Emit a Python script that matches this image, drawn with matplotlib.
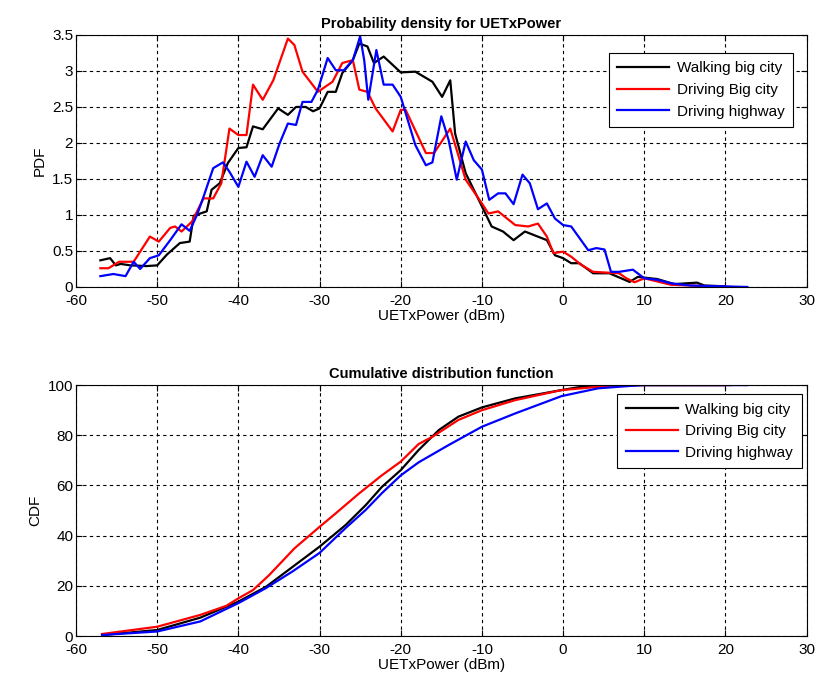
import numpy as np
import matplotlib
matplotlib.use('Agg')
import matplotlib.pyplot as plt

plt.rcParams['font.family'] = ['Liberation Sans', 'DejaVu Sans']
plt.rcParams['axes.unicode_minus'] = False

series_names = ['Walking big city', 'Driving Big city', 'Driving highway']
series_colors = ['black', 'red', 'blue']

# PDF curves (x in dBm, y = density)
pdf_walk_x = [-57.0, -55.8, -55.1, -54.5, -53.3, -51.3, -50.0, -48.8, -47.2, -46.0, -45.5, -43.9,
              -43.3, -42.3, -41.3, -40.0, -39.0, -38.2, -37.0, -35.1, -33.9, -32.9, -31.7, -30.8,
              -30.0, -29.0, -28.0, -27.2, -25.9, -25.1, -24.1, -23.3, -22.1, -20.0, -18.2, -16.1,
              -14.9, -13.9, -13.3, -12.0, -10.0, -8.8, -7.4, -6.1, -4.7, -2.0, -1.0, 0.0,
              1.0, 2.0, 3.7, 5.7, 8.2, 9.2, 11.6, 13.7, 16.5, 17.4, 19.8]
pdf_walk_y = [0.37, 0.40, 0.30, 0.32, 0.30, 0.29, 0.30, 0.45, 0.61, 0.63, 0.99, 1.05,
              1.35, 1.44, 1.72, 1.93, 1.94, 2.23, 2.19, 2.48, 2.39, 2.50, 2.50, 2.44,
              2.48, 2.71, 2.71, 2.97, 3.15, 3.38, 3.34, 3.11, 3.20, 2.98, 2.99, 2.85,
              2.64, 2.87, 2.13, 1.58, 1.12, 0.84, 0.77, 0.65, 0.77, 0.65, 0.44, 0.40,
              0.33, 0.33, 0.19, 0.19, 0.07, 0.14, 0.11, 0.04, 0.06, 0.02, 0.01]

pdf_city_x = [-57.0, -56.0, -54.7, -52.9, -50.9, -49.8, -48.4, -47.8, -47.0, -45.7, -44.3, -43.1,
              -42.1, -41.1, -40.0, -39.0, -38.2, -37.0, -35.7, -33.9, -33.1, -32.1, -30.2, -28.4,
              -27.2, -25.9, -25.1, -24.1, -23.1, -21.0, -20.0, -19.4, -16.9, -15.9, -13.9, -12.0,
              -10.0, -9.2, -8.0, -5.9, -4.3, -3.1, -2.0, -1.2, 0.0, 1.0, 2.2, 3.7,
              6.9, 7.8, 8.8, 10.0, 13.3, 20.6]
pdf_city_y = [0.26, 0.26, 0.35, 0.35, 0.70, 0.63, 0.82, 0.84, 0.77, 0.91, 1.23, 1.23,
              1.44, 2.20, 2.11, 2.11, 2.81, 2.60, 2.87, 3.45, 3.36, 2.99, 2.71, 2.85,
              3.11, 3.15, 2.74, 2.71, 2.48, 2.16, 2.46, 2.46, 1.86, 1.86, 2.20, 1.49,
              1.16, 1.02, 1.05, 0.86, 0.84, 0.88, 0.70, 0.47, 0.49, 0.42, 0.31, 0.21,
              0.19, 0.12, 0.065, 0.12, 0.03, 0.0]

pdf_hwy_x = [-57.0, -55.4, -53.9, -52.9, -52.1, -50.9, -49.8, -48.4, -47.0, -46.0, -45.1, -44.3,
             -43.1, -41.9, -41.1, -40.0, -39.0, -38.0, -37.0, -35.9, -34.9, -33.9, -32.9, -32.1,
             -31.0, -30.2, -29.0, -28.0, -27.0, -25.9, -25.0, -24.5, -24.0, -23.0, -22.1, -21.0,
             -20.0, -18.2, -16.9, -16.1, -15.0, -14.1, -13.1, -12.0, -11.0, -10.0, -9.1, -8.0,
             -7.1, -6.1, -5.0, -4.1, -3.1, -2.0, -1.0, 0.0, 1.0, 3.1, 4.1, 5.1,
             5.9, 6.9, 8.6, 10.0, 11.6, 13.3, 15.7, 22.7]
pdf_hwy_y = [0.15, 0.18, 0.15, 0.35, 0.25, 0.40, 0.44, 0.65, 0.87, 0.78, 1.00, 1.25,
             1.65, 1.73, 1.60, 1.39, 1.74, 1.53, 1.83, 1.67, 2.00, 2.27, 2.25, 2.57,
             2.57, 2.74, 3.18, 3.01, 3.01, 3.15, 3.48, 3.15, 2.60, 3.29, 2.81, 2.81,
             2.64, 1.97, 1.69, 1.73, 2.37, 2.04, 1.49, 2.02, 1.76, 1.63, 1.21, 1.30,
             1.30, 1.15, 1.56, 1.44, 1.08, 1.16, 0.95, 0.86, 0.84, 0.51, 0.54, 0.52,
             0.21, 0.21, 0.24, 0.12, 0.10, 0.05, 0.02, 0.0]

# CDF curves (percent)
cdf_walk_x = [-56.7, -50.0, -44.7, -40.0, -36.6, -33.3, -30.0, -26.8, -24.3, -22.3, -20.0,
              -17.8, -15.3, -12.9, -10.0, -5.9, -0.2, 2.7, 4.7, 19.8]
cdf_walk_y = [0.4, 2.4, 7.3, 13.7, 19.6, 27.6, 35.6, 44.2, 52.2, 59.5, 66.1,
              74.1, 82.1, 87.4, 91.1, 94.7, 98.0, 99.6, 100.0, 100.0]

cdf_city_x = [-56.8, -50.0, -44.7, -41.5, -40.0, -38.2, -36.2, -33.1, -30.0, -28.0, -25.1,
              -22.3, -20.0, -17.8, -16.1, -12.9, -10.0, -5.9, -0.2, 4.3, 6.7, 20.6]
cdf_city_y = [0.8, 3.7, 8.4, 12.0, 15.0, 18.3, 24.3, 34.9, 43.5, 48.9, 56.9,
              64.1, 69.5, 76.5, 79.4, 86.1, 90.0, 94.0, 98.0, 99.3, 100.0, 100.0]

cdf_hwy_x = [-56.8, -50.0, -44.7, -40.0, -36.6, -33.3, -30.0, -26.8, -24.3, -22.3, -20.0,
             -17.8, -14.1, -10.0, -5.9, -0.2, 4.3, 8.4, 10.0, 22.7]
cdf_hwy_y = [0.4, 1.8, 5.8, 13.1, 19.1, 25.8, 33.1, 43.0, 50.3, 57.0, 64.0,
             69.2, 76.1, 83.4, 88.7, 95.6, 98.7, 99.7, 100.0, 100.0]

pdf_ticks = [0, 0.5, 1, 1.5, 2, 2.5, 3, 3.5]
pdf_tick_labels = ['0', '0.5', '1', '1.5', '2', '2.5', '3', '3.5']
cdf_ticks = [0, 20, 40, 60, 80, 100]
x_ticks = [-60, -50, -40, -30, -20, -10, 0, 10, 20, 30]


def style_axes(ax):
    ax.set_xlim(-60, 30)
    ax.set_xticks(x_ticks)
    ax.grid(True, color='black', linestyle=(0, (3, 3)), linewidth=0.8)
    ax.tick_params(direction='in', top=True, right=True, labelsize=11, length=4)
    ax.tick_params(axis='x', pad=5)
    ax.tick_params(axis='y', pad=2)
    for s in ax.spines.values():
        s.set_linewidth(0.8)
    ax.set_xlabel('UETxPower (dBm)', fontsize=11, labelpad=1)


fig = plt.figure(figsize=(8.2, 6.8), dpi=100)
ax1 = fig.add_axes([0.0927, 0.578, 0.891, 0.3706])
ax2 = fig.add_axes([0.0927, 0.0647, 0.891, 0.369])

pdf_data = [(pdf_walk_x, pdf_walk_y), (pdf_city_x, pdf_city_y), (pdf_hwy_x, pdf_hwy_y)]
cdf_data = [(cdf_walk_x, cdf_walk_y), (cdf_city_x, cdf_city_y), (cdf_hwy_x, cdf_hwy_y)]

for (xs, ys), name, c in zip(pdf_data, series_names, series_colors):
    ax1.plot(xs, ys, color=c, linewidth=1.6, label=name)
for (xs, ys), name, c in zip(cdf_data, series_names, series_colors):
    ax2.plot(xs, ys, color=c, linewidth=1.6, label=name)

style_axes(ax1)
ax1.set_ylim(0, 3.5)
ax1.set_yticks(pdf_ticks)
ax1.set_yticklabels(pdf_tick_labels)
ax1.set_ylabel('PDF', fontsize=11)
ax1.set_title('Probability density for UETxPower', fontsize=10.5, fontweight='bold', pad=5)

style_axes(ax2)
ax2.set_ylim(0, 100)
ax2.set_yticks(cdf_ticks)
ax2.set_ylabel('CDF', fontsize=11)
ax2.set_title('Cumulative distribution function', fontsize=10.5, fontweight='bold', pad=5)

legend_anchors = [(0.981, 0.929), (0.993, 0.964)]
for ax, anchor in zip((ax1, ax2), legend_anchors):
    leg = ax.legend(loc='upper right', bbox_to_anchor=anchor, borderaxespad=0,
                    fontsize=11, fancybox=False, framealpha=1,
                    edgecolor='black', handlelength=3.4,
                    labelspacing=0.5, handletextpad=0.5, borderpad=0.55)
    leg.get_frame().set_linewidth(0.8)

fig.savefig('out.png', dpi=100)
